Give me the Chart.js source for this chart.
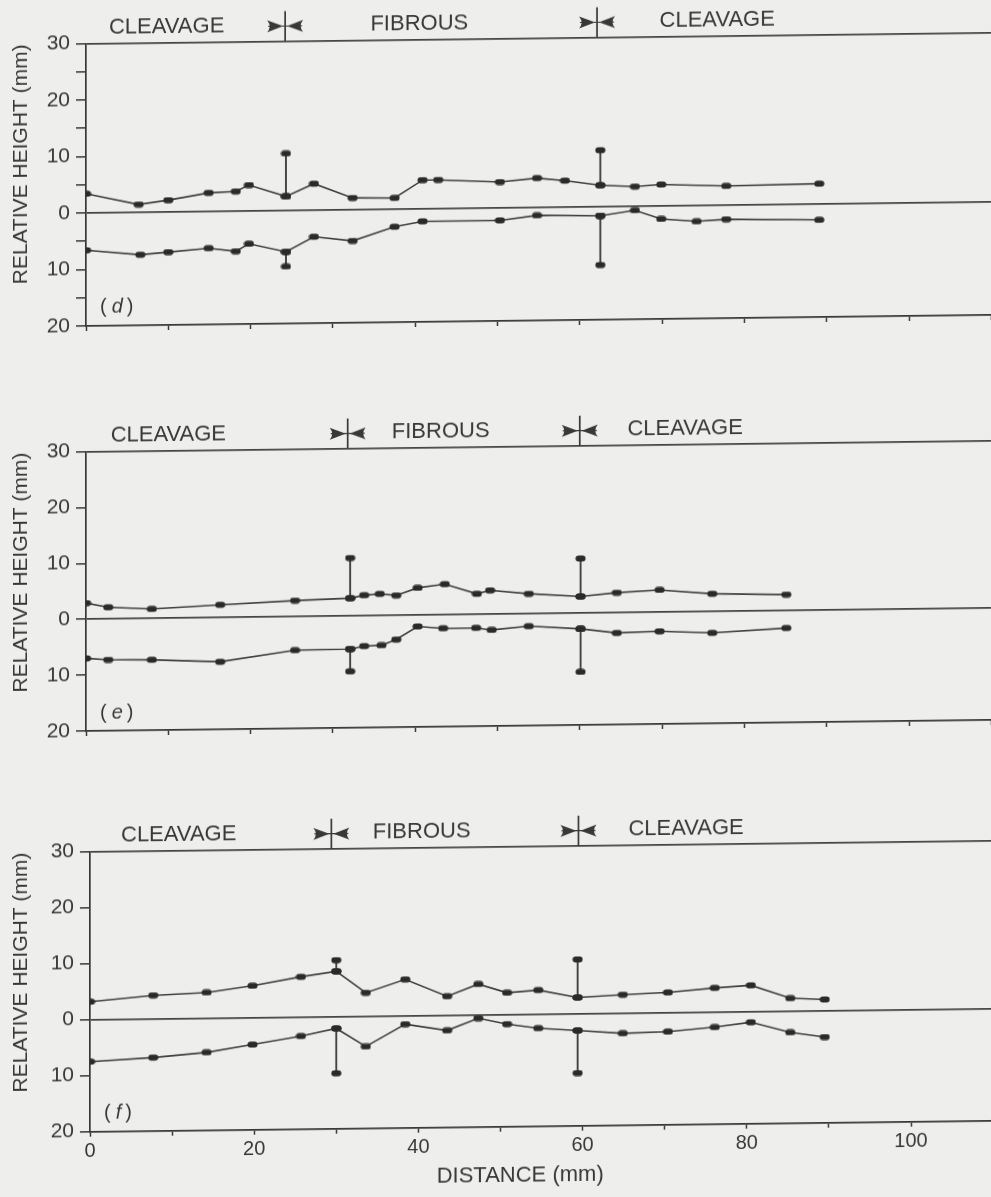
<!DOCTYPE html>
<html>
<head>
<meta charset="utf-8">
<script src="https://cdn.jsdelivr.net/npm/chart.js@4.4.1/dist/chart.umd.min.js"></script>
<style>
  html, body { margin: 0; padding: 0; background: #eeeeec; overflow: hidden; width: 991px; height: 1197px; }
  canvas { position: absolute; left: 0; transform: skewY(-0.7deg); transform-origin: 88px 0; }
</style>
</head>
<body>
<canvas id="chart_d" width="1000" height="360" style="top:0px"></canvas>
<canvas id="chart_e" width="1000" height="380" style="top:380px"></canvas>
<canvas id="chart_f" width="1000" height="417" style="top:780px"></canvas>
<script>
// panel (d)
const d_upper_x = [0, 6.4, 10.0, 14.9, 18.2, 19.8, 24.3, 27.7, 32.4, 37.5, 40.9, 42.8, 50.3, 54.8, 58.2, 62.5, 66.7, 69.9, 77.8, 89.1];
const d_upper_y = [3.4, 1.4, 2.1, 3.3, 3.5, 4.6, 2.5, 4.7, 2.1, 2.0, 5.1, 5.1, 4.6, 5.2, 4.7, 3.8, 3.5, 3.8, 3.4, 3.6];
const d_lower_x = [0, 6.6, 10.0, 14.9, 18.2, 19.8, 24.3, 27.7, 32.4, 37.5, 40.9, 50.3, 54.8, 62.5, 66.7, 69.9, 74.2, 77.8, 89.1];
const d_lower_y = [-6.6, -7.5, -7.1, -6.5, -7.1, -5.8, -7.3, -4.7, -5.5, -3.1, -2.2, -2.2, -1.4, -1.6, -0.7, -2.3, -2.8, -2.5, -2.8];
const d_bar_x = [24.3, 62.5];
const d_bar_top = [10.1, 10.0];
const d_bar_bottom = [-9.9, -10.3];
const d_bounds = [24.2, 62.1];

// panel (e)
const e_upper_x = [0, 2.7, 8.0, 16.3, 25.4, 32.1, 33.8, 35.7, 37.7, 40.3, 43.6, 47.5, 49.1, 53.8, 60.1, 64.5, 69.7, 76.1, 85.1];
const e_upper_y = [2.9, 2.1, 1.7, 2.3, 2.9, 3.2, 3.7, 3.9, 3.6, 4.9, 5.5, 3.7, 4.3, 3.6, 3.0, 3.6, 4.0, 3.2, 2.9];
const e_lower_x = [0, 2.7, 8.0, 16.3, 25.4, 32.1, 33.8, 35.9, 37.7, 40.3, 43.4, 47.4, 49.3, 53.8, 60.1, 64.5, 69.7, 76.1, 85.1];
const e_lower_y = [-7.0, -7.3, -7.4, -7.9, -6.0, -5.9, -5.4, -5.3, -4.3, -2.0, -2.4, -2.4, -2.8, -2.2, -2.8, -3.6, -3.4, -3.8, -3.1];
const e_bar_x = [32.1, 60.1];
const e_bar_top = [10.4, 9.8];
const e_bar_bottom = [-9.9, -10.5];
const e_bounds = [31.8, 60.0];

// panel (f)
const f_upper_x = [0, 7.7, 14.2, 19.8, 25.7, 30.0, 33.6, 38.4, 43.5, 47.3, 50.8, 54.6, 59.4, 64.9, 70.4, 76.1, 80.5, 85.3, 89.5];
const f_upper_y = [3.2, 4.2, 4.6, 5.7, 7.2, 8.1, 4.2, 6.5, 3.4, 5.5, 3.9, 4.3, 2.9, 3.3, 3.6, 4.3, 4.7, 2.3, 2.0];
const f_lower_x = [0, 7.7, 14.2, 19.8, 25.7, 30.0, 33.6, 38.4, 43.5, 47.3, 50.8, 54.6, 59.4, 64.9, 70.4, 76.1, 80.5, 85.3, 89.5];
const f_lower_y = [-7.5, -6.9, -6.1, -4.8, -3.4, -2.1, -5.4, -1.5, -2.7, -0.6, -1.7, -2.5, -3.0, -3.6, -3.4, -2.7, -1.9, -3.8, -4.7];
const f_bar_x = [30.0, 59.4];
const f_bar_top = [10.1, 9.7];
const f_bar_bottom = [-10.1, -10.6];
const f_bounds = [29.4, 59.5];

// labels
const phase_names = ['CLEAVAGE', 'FIBROUS', 'CLEAVAGE'];
const y_tick_values = [30, 20, 10, 0, -10, -20];
const y_tick_labels = ['30', '20', '10', '0', '10', '20'];
const x_tick_values = [0, 20, 40, 60, 80, 100];
const x_tick_labels = ['0', '20', '40', '60', '80', '100'];
const x_title = 'DISTANCE (mm)';
const y_title = 'RELATIVE HEIGHT (mm)';

const ink = '#383838';
const font_family = '"Liberation Sans", Arial, Helvetica, sans-serif';
Chart.defaults.font.family = font_family;
Chart.defaults.color = ink;

// 点のマーカー（横長の黒い粒）
function make_blob() {
    const c = document.createElement('canvas');
    c.width = 11;
    c.height = 7;
    const g = c.getContext('2d');
    g.fillStyle = '#2a2a2a';
    g.beginPath();
    g.roundRect(0.5, 0.5, 10, 6, 3);
    g.fill();
    return c;
}
const blob = make_blob();

function zip(xs, ys) {
    return xs.map((x, i) => ({ x: x, y: ys[i] }));
}

// 遷移位置の縦棒（上下の系列の点から延びる）
function bar_points(bx, top, bottom, ux, uy, lx, ly) {
    const pts = [];
    bx.forEach((x, i) => {
        pts.push({ x: x, y: uy[ux.indexOf(x)] }, { x: x, y: top[i] }, { x: x, y: null });
        pts.push({ x: x, y: ly[lx.indexOf(x)] }, { x: x, y: bottom[i] }, { x: x, y: null });
    });
    return pts;
}

// 上部の CLEAVAGE / FIBROUS 表示と境界記号、パネル記号
const figure_marks = {
    id: 'figure_marks',
    afterDraw(chart, args, opts) {
        const { ctx, chartArea, scales: { x, y } } = chart;
        const top = chartArea.top;
        ctx.save();
        ctx.fillStyle = ink;
        ctx.strokeStyle = ink;
        ctx.font = '22px ' + font_family;
        ctx.textAlign = 'center';
        ctx.textBaseline = 'alphabetic';
        opts.label_x.forEach((lx, i) => {
            ctx.fillText(phase_names[i], x.getPixelForValue(lx), top - 10);
        });
        opts.bounds.forEach(bx => {
            const px = x.getPixelForValue(bx);
            const cy = top - 15;
            ctx.lineWidth = 1.7;
            ctx.beginPath();
            ctx.moveTo(px, top - 30);
            ctx.lineTo(px, top);
            ctx.stroke();
            ctx.lineWidth = 1.2;
            ctx.beginPath();
            ctx.moveTo(px - 17, cy);
            ctx.lineTo(px + 17, cy);
            ctx.stroke();
            ctx.beginPath();
            ctx.moveTo(px - 18, cy - 6);
            ctx.lineTo(px - 2, cy);
            ctx.lineTo(px - 18, cy + 6);
            ctx.quadraticCurveTo(px - 13, cy, px - 18, cy - 6);
            ctx.moveTo(px + 18, cy - 6);
            ctx.lineTo(px + 2, cy);
            ctx.lineTo(px + 18, cy + 6);
            ctx.quadraticCurveTo(px + 13, cy, px + 18, cy - 6);
            ctx.fill();
        });
        // (d) (e) (f)
        const ly = y.getPixelForValue(-16.8);
        let lx = chartArea.left + 14;
        ctx.textAlign = 'left';
        ctx.textBaseline = 'middle';
        ctx.font = '20px ' + font_family;
        ctx.fillText('(', lx, ly);
        lx += ctx.measureText('(').width + 5;
        ctx.font = 'italic 20px ' + font_family;
        ctx.fillText(opts.letter, lx, ly);
        lx += ctx.measureText(opts.letter).width + 4;
        ctx.font = '20px ' + font_family;
        ctx.fillText(')', lx, ly);
        // 横軸タイトル（一番下のパネルのみ）
        if (opts.x_title_at != null) {
            ctx.textAlign = 'center';
            ctx.font = '22px ' + font_family;
            ctx.fillText(x_title, x.getPixelForValue(opts.x_title_at), chart.height - 16);
        }
        ctx.restore();
    }
};

function draw_panel(id, p) {
    const canvas = document.getElementById(id);
    const x_per_unit = 8.23;
    const right_pad = canvas.width - (p.left + 110 * x_per_unit);
    return new Chart(canvas, {
        type: 'line',
        data: {
            datasets: [
                { data: zip(p.ux, p.uy) },
                { data: zip(p.lx, p.ly) },
                { data: bar_points(p.bar_x, p.bar_top, p.bar_bottom, p.ux, p.uy, p.lx, p.ly), spanGaps: false, borderWidth: 1.9 }
            ]
        },
        options: {
            responsive: false,
            animation: false,
            events: [],
            layout: { padding: { top: p.pad_top, right: right_pad, left: 0, bottom: 0 } },
            elements: {
                line: { borderColor: '#404040', borderWidth: 1.6, tension: 0, fill: false },
                point: { pointStyle: blob, radius: 5 }
            },
            plugins: {
                legend: { display: false },
                tooltip: { enabled: false },
                figure_marks: { label_x: p.label_x, bounds: p.bounds, letter: p.letter, x_title_at: p.x_title_at }
            },
            scales: {
                x: {
                    type: 'linear',
                    min: 0,
                    max: 110,
                    afterFit: s => { s.height = p.x_height; },
                    ticks: {
                        stepSize: 10,
                        autoSkip: false,
                        maxRotation: 0,
                        padding: 3,
                        font: { size: 20 },
                        callback: v => {
                            const i = x_tick_values.indexOf(v);
                            return (p.show_x && i >= 0) ? x_tick_labels[i] : '';
                        }
                    },
                    grid: { drawOnChartArea: false, tickLength: 5, tickColor: ink, tickWidth: 1.5 },
                    border: { color: ink, width: 1.7 }
                },
                y: {
                    min: -20,
                    max: 30,
                    afterFit: s => { s.width = p.left; },
                    ticks: {
                        stepSize: 5,
                        padding: 6,
                        font: { size: 21 },
                        callback: v => {
                            const i = y_tick_values.indexOf(v);
                            return i >= 0 ? y_tick_labels[i] : '';
                        }
                    },
                    grid: {
                        color: c => (c.tick && (c.tick.value === 0 || c.tick.value === 30)) ? '#454545' : 'rgba(0,0,0,0)',
                        lineWidth: 1.7,
                        tickLength: 10,
                        tickColor: ink,
                        tickWidth: 1.5
                    },
                    border: { color: ink, width: 1.7 },
                    title: {
                        display: true,
                        text: y_title,
                        align: 'end',
                        font: { size: 21 },
                        padding: { top: 9, bottom: 0 }
                    }
                }
            }
        },
        plugins: [figure_marks]
    });
}

draw_panel('chart_d', {
    ux: d_upper_x, uy: d_upper_y, lx: d_lower_x, ly: d_lower_y,
    bar_x: d_bar_x, bar_top: d_bar_top, bar_bottom: d_bar_bottom, bounds: d_bounds,
    label_x: [9.8, 40.5, 76.7], letter: 'd',
    left: 86, pad_top: 43.5, x_height: 34, show_x: false, x_title_at: null
});
draw_panel('chart_e', {
    ux: e_upper_x, uy: e_upper_y, lx: e_lower_x, ly: e_lower_y,
    bar_x: e_bar_x, bar_top: e_bar_top, bar_bottom: e_bar_bottom, bounds: e_bounds,
    label_x: [10.0, 43.1, 72.8], letter: 'e',
    left: 86, pad_top: 71.7, x_height: 29, show_x: false, x_title_at: null
});
draw_panel('chart_f', {
    ux: f_upper_x, uy: f_upper_y, lx: f_lower_x, ly: f_lower_y,
    bar_x: f_bar_x, bar_top: f_bar_top, bar_bottom: f_bar_bottom, bounds: f_bounds,
    label_x: [10.8, 40.4, 72.6], letter: 'f',
    left: 90, pad_top: 71.7, x_height: 65.3, show_x: true, x_title_at: 52.4
});
</script>
</body>
</html>
